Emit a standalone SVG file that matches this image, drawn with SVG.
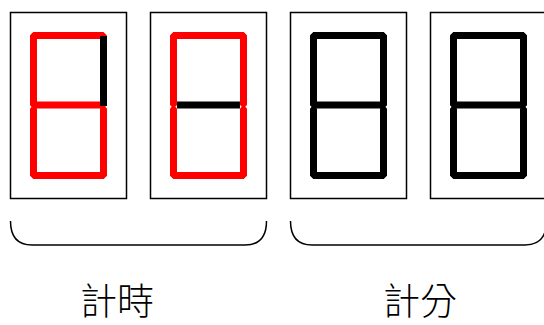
<svg xmlns="http://www.w3.org/2000/svg" width="544" height="325" viewBox="0 0 544 325">
<style>
.frame{fill:#fff;stroke:#000;stroke-width:1.5}
.on{fill:#ff0000}
.off{fill:#000}
.brace{fill:none;stroke:#000;stroke-width:1.5}
.lbl{font-family:"Noto Sans CJK TC","Noto Sans CJK SC",sans-serif;font-size:37px;font-weight:300;fill:#000;text-anchor:middle}
</style>
<defs>
<polygon id="h" points="0,3.5 3.5,0 73.5,0 77,3.5 73.5,7 3.5,7"/>
<polygon id="vu" points="3.5,0 7,3.5 7,73 3.5,76.5 0,73 0,3.5"/>
<polygon id="vl" points="3.5,0 7,3.5 7,70.5 3.5,74 0,70.5 0,3.5"/>
</defs>
<g id="digit1">
<rect class="frame" x="10.5" y="12.5" width="116" height="186"/>
<use href="#h" class="on" x="30" y="32"/>
<use href="#vu" class="on" x="30" y="32"/>
<use href="#vl" class="on" x="30" y="105"/>
<use href="#vl" class="on" x="100" y="105"/>
<use href="#h" class="on" x="30" y="172"/>
<use href="#h" class="on" x="30" y="101.5"/>
<rect class="off" x="100" y="36" width="7" height="70"/>
</g>
<g id="digit2">
<rect class="frame" x="150.5" y="12.5" width="116" height="186"/>
<use href="#h" class="on" x="170" y="32"/>
<use href="#vu" class="on" x="170" y="32"/>
<use href="#vl" class="on" x="170" y="105"/>
<use href="#vu" class="on" x="240" y="32"/>
<use href="#vl" class="on" x="240" y="105"/>
<use href="#h" class="on" x="170" y="172"/>
<rect class="off" x="177" y="101.5" width="63" height="7"/>
</g>
<g id="digit3">
<rect class="frame" x="290.5" y="12.5" width="116" height="186"/>
<use href="#h" class="off" x="310" y="32"/>
<use href="#vu" class="off" x="310" y="32"/>
<use href="#vl" class="off" x="310" y="105"/>
<use href="#vu" class="off" x="380" y="32"/>
<use href="#vl" class="off" x="380" y="105"/>
<use href="#h" class="off" x="310" y="172"/>
<use href="#h" class="off" x="310" y="101.5"/>
</g>
<g id="digit4">
<rect class="frame" x="430.5" y="12.5" width="116" height="186"/>
<use href="#h" class="off" x="450" y="32"/>
<use href="#vu" class="off" x="450" y="32"/>
<use href="#vl" class="off" x="450" y="105"/>
<use href="#vu" class="off" x="520" y="32"/>
<use href="#vl" class="off" x="520" y="105"/>
<use href="#h" class="off" x="450" y="172"/>
<use href="#h" class="off" x="450" y="101.5"/>
</g>
<g id="connectors">
<path class="brace" d="M10.5,221 C10.5,237 18,245 32,245 H245 C259,245 266.5,237 266.5,221"/>
<path class="brace" d="M290.5,221 C290.5,237 298,245 312,245 H525 C539,245 546.5,237 546.5,221"/>
</g>
<g id="labels">
<text class="lbl" x="117" y="315">計時</text>
<text class="lbl" x="420" y="315">計分</text>
</g>
</svg>
